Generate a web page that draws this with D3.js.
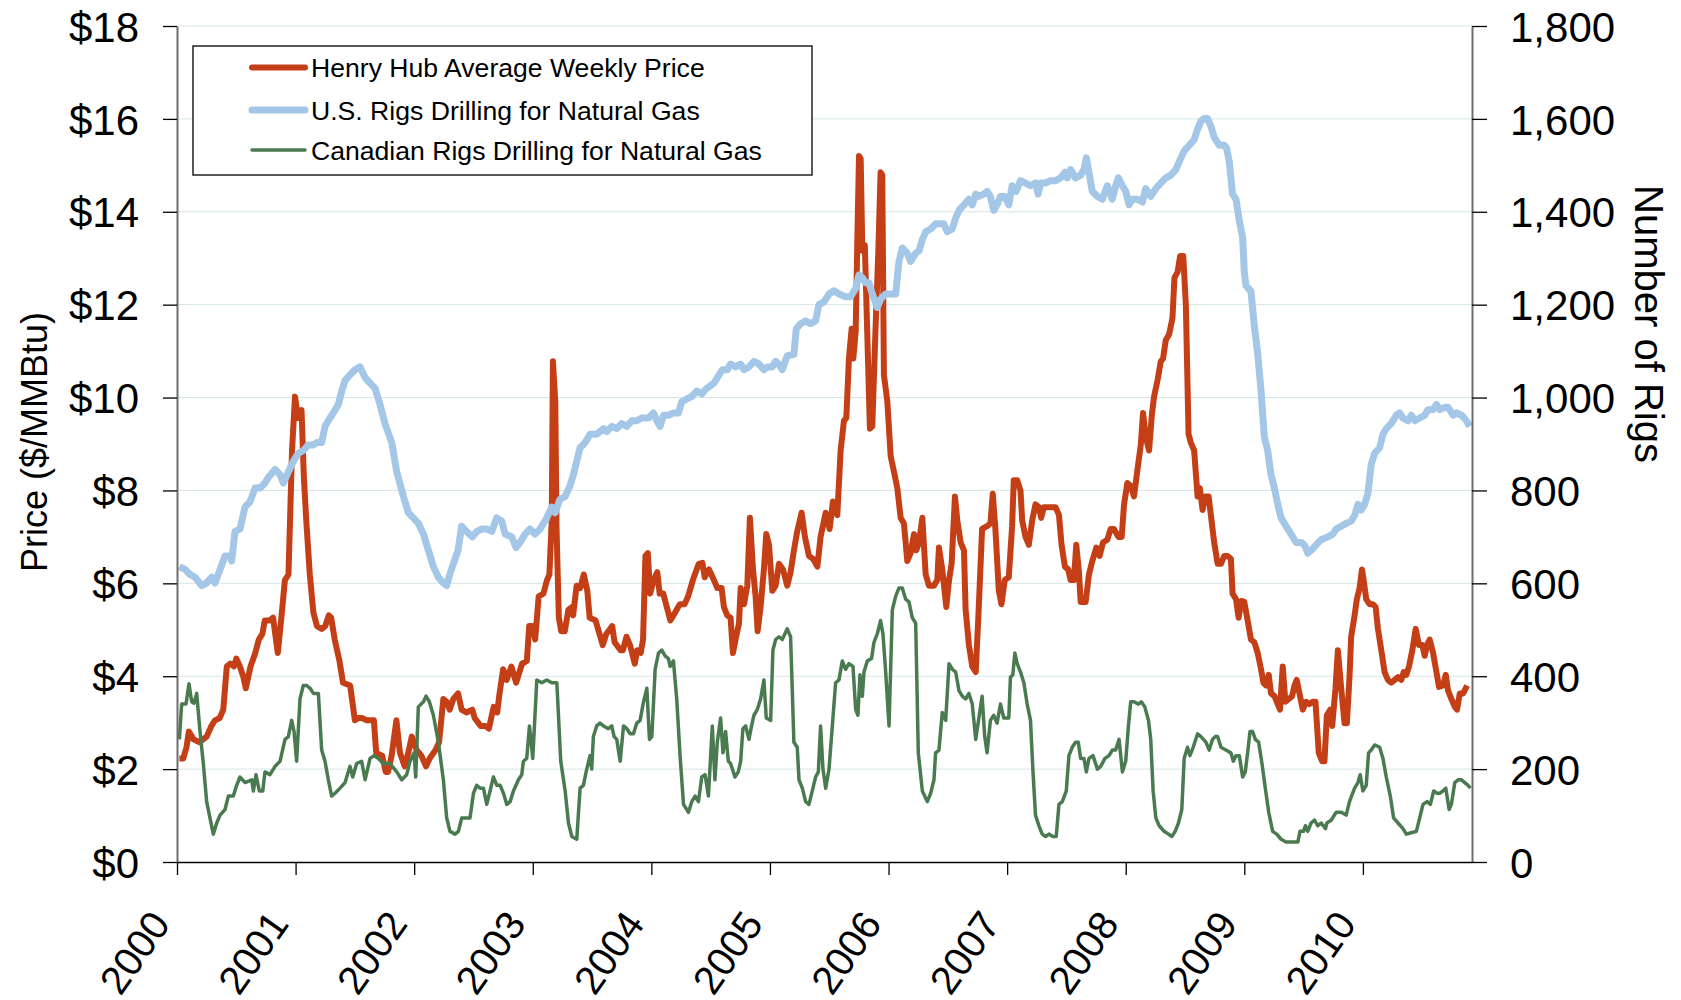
<!DOCTYPE html>
<html>
<head>
    <meta charset="utf-8">
    <title>Henry Hub price and gas rigs 2000-2010</title>
    <script src="https://cdnjs.cloudflare.com/ajax/libs/d3/7.8.5/d3.min.js"></script>
    <style>
        body { margin: 0; background: #fff; }
        text { font-family: "Liberation Sans", Arial, sans-serif; fill: #000; }
    </style>
</head>
<body>
<div id="chart"></div>

<script type="text/javascript">
    ////////////////////////////////////////////////////////////
    /////////////////////// Data ///////////////////////////////
    ////////////////////////////////////////////////////////////

    //[decimal year, $/MMBtu]
    var henryHub = [
        [2000.02,2.23],[2000.053,2.23],[2000.08,2.47],[2000.10,2.81],[2000.14,2.64],[2000.19,2.58],
        [2000.25,2.70],[2000.29,2.93],[2000.32,3.05],[2000.36,3.10],[2000.39,3.28],[2000.42,4.21],
        [2000.45,4.27],[2000.48,4.21],[2000.50,4.38],[2000.53,4.21],[2000.56,3.98],[2000.58,3.74],
        [2000.62,4.21],[2000.66,4.50],[2000.69,4.79],[2000.72,4.91],[2000.74,5.20],[2000.78,5.20],
        [2000.81,5.26],[2000.85,4.50],[2000.88,5.26],[2000.91,6.07],[2000.94,6.19],[2000.97,8.86],
        [2000.995,10.02],[2001.02,9.56],[2001.05,9.73],[2001.07,8.28],[2001.09,7.35],[2001.12,6.19],
        [2001.15,5.37],[2001.18,5.08],[2001.22,5.02],[2001.25,5.08],[2001.28,5.31],[2001.30,5.26],
        [2001.33,4.79],[2001.37,4.33],[2001.40,3.86],[2001.46,3.80],[2001.50,3.05],[2001.53,3.10],
        [2001.56,3.10],[2001.60,3.05],[2001.66,3.05],[2001.68,2.35],[2001.73,2.29],[2001.76,1.94],
        [2001.78,1.94],[2001.81,2.29],[2001.85,3.05],[2001.88,2.35],[2001.92,2.06],[2001.95,2.35],
        [2001.98,2.70],[2002.02,2.41],[2002.06,2.29],[2002.10,2.06],[2002.13,2.23],[2002.18,2.41],
        [2002.21,2.58],[2002.246,3.51],[2002.274,3.45],[2002.30,3.28],[2002.33,3.51],[2002.37,3.63],
        [2002.40,3.28],[2002.44,3.22],[2002.49,3.28],[2002.51,3.10],[2002.56,2.93],[2002.60,2.93],
        [2002.63,2.87],[2002.67,3.34],[2002.70,3.22],[2002.72,3.63],[2002.75,4.15],[2002.78,3.92],
        [2002.82,4.21],[2002.86,3.86],[2002.91,4.27],[2002.95,4.33],[2002.97,5.08],[2003.00,5.08],
        [2003.02,4.79],[2003.05,5.72],[2003.09,5.78],[2003.12,6.07],[2003.14,6.19],[2003.16,7.35],
        [2003.17,10.78],[2003.19,9.91],[2003.20,7.23],[2003.22,5.26],[2003.24,4.97],[2003.27,4.97],
        [2003.30,5.43],[2003.33,5.49],[2003.34,5.31],[2003.37,5.95],[2003.40,5.90],[2003.43,6.19],
        [2003.46,5.84],[2003.48,5.26],[2003.53,5.20],[2003.55,5.02],[2003.59,4.67],[2003.62,4.91],
        [2003.67,5.08],[2003.69,4.73],[2003.74,4.56],[2003.76,4.56],[2003.79,4.85],[2003.82,4.67],
        [2003.86,4.27],[2003.88,4.56],[2003.91,4.50],[2003.93,4.79],[2003.95,6.59],[2003.97,6.65],
        [2003.99,5.78],[2004.02,6.07],[2004.05,6.24],[2004.07,5.78],[2004.10,5.78],[2004.13,5.49],
        [2004.16,5.20],[2004.20,5.37],[2004.24,5.55],[2004.28,5.55],[2004.31,5.72],[2004.35,6.07],
        [2004.40,6.42],[2004.43,6.44],[2004.45,6.13],[2004.486,6.30],[2004.528,6.07],[2004.556,5.90],
        [2004.592,5.90],[2004.612,5.49],[2004.64,5.31],[2004.668,5.26],[2004.688,4.50],[2004.71,4.79],
        [2004.739,5.14],[2004.753,5.90],[2004.781,5.55],[2004.809,5.95],[2004.831,7.41],[2004.857,6.30],
        [2004.879,5.72],[2004.896,4.97],[2004.921,5.49],[2004.949,6.30],[2004.969,7.06],[2004.992,6.83],
        [2005.02,5.84],[2005.048,5.95],[2005.076,6.42],[2005.11,6.30],[2005.146,5.95],[2005.174,6.24],
        [2005.202,6.71],[2005.23,7.12],[2005.267,7.52],[2005.295,7.00],[2005.329,6.59],[2005.363,6.53],
        [2005.40,6.36],[2005.427,7.00],[2005.47,7.52],[2005.503,7.17],[2005.531,7.76],[2005.568,7.47],
        [2005.596,8.86],[2005.624,9.50],[2005.644,9.56],[2005.666,10.84],[2005.689,11.48],[2005.703,10.84],
        [2005.723,11.43],[2005.737,13.40],[2005.751,15.20],[2005.765,15.14],[2005.779,13.16],[2005.80,13.28],
        [2005.82,11.43],[2005.843,9.33],[2005.863,9.38],[2005.891,11.53],[2005.914,13.16],[2005.933,14.85],
        [2005.947,14.79],[2005.961,10.49],[2005.99,9.91],[2006.018,8.74],[2006.046,8.40],[2006.074,8.05],
        [2006.102,7.41],[2006.13,7.29],[2006.158,6.48],[2006.186,6.65],[2006.215,7.06],[2006.234,6.71],
        [2006.257,6.88],[2006.285,7.41],[2006.313,6.19],[2006.341,5.95],[2006.383,5.95],[2006.411,6.07],
        [2006.425,6.77],[2006.453,6.30],[2006.487,5.49],[2006.51,6.07],[2006.532,6.42],[2006.56,7.87],
        [2006.58,7.35],[2006.608,6.88],[2006.636,6.71],[2006.65,5.43],[2006.678,4.67],[2006.706,4.21],
        [2006.735,4.09],[2006.757,5.26],[2006.789,7.17],[2006.831,7.23],[2006.859,7.29],[2006.879,7.93],
        [2006.901,7.17],[2006.93,5.84],[2006.952,5.55],[2006.98,6.07],[2007.014,6.13],[2007.042,7.23],
        [2007.056,8.22],[2007.085,8.22],[2007.113,7.99],[2007.127,7.35],[2007.155,7.00],[2007.183,6.83],
        [2007.211,7.35],[2007.239,7.70],[2007.268,7.64],[2007.287,7.41],[2007.31,7.64],[2007.352,7.64],
        [2007.38,7.64],[2007.408,7.64],[2007.437,7.47],[2007.459,6.83],[2007.487,6.36],[2007.515,6.30],
        [2007.535,6.07],[2007.563,6.07],[2007.583,6.83],[2007.606,6.24],[2007.62,5.60],[2007.662,5.60],
        [2007.69,6.19],[2007.718,6.48],[2007.752,6.77],[2007.78,6.59],[2007.808,6.88],[2007.845,6.94],
        [2007.873,7.17],[2007.901,7.17],[2007.938,7.00],[2007.966,7.00],[2007.986,7.70],[2008.014,8.16],
        [2008.042,8.10],[2008.07,7.87],[2008.099,8.45],[2008.127,8.98],[2008.146,9.67],[2008.169,9.15],
        [2008.197,8.86],[2008.22,9.62],[2008.239,10.02],[2008.268,10.37],[2008.296,10.78],[2008.315,10.84],
        [2008.338,11.24],[2008.366,11.36],[2008.394,11.71],[2008.411,12.58],[2008.437,12.70],[2008.459,13.05],
        [2008.485,13.05],[2008.507,12.00],[2008.53,9.21],[2008.549,9.03],[2008.577,8.86],[2008.606,7.87],
        [2008.625,8.05],[2008.648,7.58],[2008.67,7.87],[2008.699,7.87],[2008.718,7.47],[2008.746,6.88],
        [2008.775,6.42],[2008.803,6.42],[2008.831,6.59],[2008.859,6.59],[2008.887,6.53],[2008.901,5.78],
        [2008.93,5.66],[2008.952,5.26],[2008.975,5.62],[2009.0,5.60],[2009.028,5.20],[2009.056,4.79],
        [2009.085,4.73],[2009.113,4.50],[2009.141,4.15],[2009.161,3.86],[2009.183,3.80],[2009.206,4.03],
        [2009.225,3.63],[2009.254,3.57],[2009.282,3.40],[2009.301,3.28],[2009.324,4.21],[2009.346,3.45],
        [2009.375,3.51],[2009.403,3.57],[2009.423,3.80],[2009.442,3.92],[2009.465,3.63],[2009.493,3.28],
        [2009.521,3.45],[2009.549,3.40],[2009.577,3.45],[2009.60,3.45],[2009.628,2.35],[2009.656,2.17],
        [2009.676,2.17],[2009.696,3.16],[2009.724,3.28],[2009.741,2.93],[2009.769,3.74],[2009.789,4.56],
        [2009.817,3.74],[2009.845,2.99],[2009.865,2.99],[2009.887,3.98],[2009.901,4.85],[2009.93,5.31],
        [2009.949,5.66],[2009.972,5.90],[2009.992,6.30],[2010.006,6.07],[2010.028,5.66],[2010.056,5.55],
        [2010.085,5.55],[2010.107,5.49],[2010.127,5.02],[2010.155,4.56],[2010.183,4.09],[2010.211,3.92],
        [2010.239,3.86],[2010.268,3.92],[2010.296,3.98],[2010.324,3.92],[2010.344,4.09],[2010.366,4.03],
        [2010.389,4.21],[2010.417,4.56],[2010.445,5.02],[2010.473,4.67],[2010.501,4.67],[2010.521,4.44],
        [2010.541,4.67],[2010.563,4.79],[2010.592,4.50],[2010.62,4.09],[2010.642,3.77],[2010.676,3.80],
        [2010.699,4.03],[2010.718,3.69],[2010.746,3.51],[2010.775,3.34],[2010.794,3.28],[2010.817,3.63],
        [2010.845,3.63],[2010.879,3.80]
    ];

    //[decimal year, number of rigs]
    var usRigs = [
        [2000.02,636],[2000.067,630],[2000.11,619],[2000.152,613],[2000.208,595],[2000.25,601],
        [2000.292,613],[2000.32,601],[2000.363,630],[2000.405,659],[2000.447,659],[2000.461,648],
        [2000.489,712],[2000.531,717],[2000.573,764],[2000.616,776],[2000.658,805],[2000.70,805],
        [2000.742,816],[2000.77,828],[2000.827,845],[2000.869,834],[2000.897,816],[2000.939,840],
        [2000.981,863],[2001.023,880],[2001.065,886],[2001.108,898],[2001.15,898],[2001.178,903],
        [2001.22,903],[2001.248,938],[2001.29,956],[2001.333,973],[2001.36,985],[2001.389,1014],
        [2001.417,1037],[2001.459,1049],[2001.501,1060],[2001.543,1066],[2001.586,1043],[2001.628,1031],
        [2001.67,1020],[2001.712,985],[2001.754,944],[2001.811,903],[2001.853,840],[2001.909,787],
        [2001.951,752],[2001.993,741],[2002.036,729],[2002.078,706],[2002.12,671],[2002.162,636],
        [2002.204,613],[2002.246,601],[2002.274,595],[2002.30,619],[2002.33,642],[2002.37,671],
        [2002.40,723],[2002.44,712],[2002.49,700],[2002.53,712],[2002.57,717],[2002.61,717],
        [2002.655,712],[2002.696,741],[2002.739,734],[2002.767,706],[2002.823,700],[2002.86,677],
        [2002.893,688],[2002.935,706],[2002.977,717],[2003.019,706],[2003.062,717],[2003.118,741],
        [2003.16,764],[2003.188,752],[2003.23,781],[2003.272,787],[2003.314,810],[2003.343,834],
        [2003.371,863],[2003.399,892],[2003.441,903],[2003.483,921],[2003.539,921],[2003.596,933],
        [2003.624,927],[2003.666,938],[2003.708,933],[2003.75,944],[2003.793,938],[2003.835,950],
        [2003.877,950],[2003.919,956],[2003.976,956],[2004.018,967],[2004.046,950],[2004.074,938],
        [2004.102,962],[2004.144,962],[2004.186,967],[2004.228,967],[2004.256,991],[2004.299,997],
        [2004.341,1002],[2004.383,1014],[2004.425,1008],[2004.467,1020],[2004.528,1031],[2004.571,1049],
        [2004.599,1060],[2004.641,1060],[2004.668,1072],[2004.711,1066],[2004.753,1072],[2004.781,1060],
        [2004.823,1066],[2004.866,1078],[2004.908,1072],[2004.949,1060],[2004.978,1066],[2005.02,1066],
        [2005.048,1078],[2005.076,1072],[2005.104,1060],[2005.146,1090],[2005.202,1093],[2005.222,1148],
        [2005.259,1159],[2005.301,1165],[2005.343,1159],[2005.385,1165],[2005.413,1200],[2005.455,1206],
        [2005.498,1223],[2005.54,1230],[2005.582,1223],[2005.638,1217],[2005.68,1217],[2005.723,1235],
        [2005.751,1264],[2005.779,1258],[2005.807,1247],[2005.835,1247],[2005.863,1223],[2005.905,1194],
        [2005.933,1212],[2005.975,1223],[2006.018,1223],[2006.06,1223],[2006.088,1293],[2006.116,1322],
        [2006.158,1311],[2006.186,1293],[2006.229,1311],[2006.257,1316],[2006.285,1340],[2006.313,1357],
        [2006.355,1363],[2006.397,1374],[2006.439,1374],[2006.467,1374],[2006.495,1357],[2006.537,1363],
        [2006.565,1386],[2006.594,1403],[2006.636,1415],[2006.678,1427],[2006.706,1415],[2006.735,1438],
        [2006.761,1433],[2006.803,1438],[2006.831,1444],[2006.859,1433],[2006.887,1403],[2006.915,1415],
        [2006.944,1433],[2006.98,1433],[2007.014,1415],[2007.042,1456],[2007.076,1444],[2007.113,1467],
        [2007.155,1462],[2007.197,1456],[2007.239,1462],[2007.262,1438],[2007.282,1462],[2007.324,1462],
        [2007.366,1467],[2007.408,1467],[2007.451,1473],[2007.487,1485],[2007.507,1473],[2007.535,1491],
        [2007.577,1473],[2007.62,1479],[2007.648,1491],[2007.668,1516],[2007.69,1485],[2007.718,1444],
        [2007.761,1433],[2007.803,1427],[2007.845,1456],[2007.887,1427],[2007.915,1456],[2007.938,1473],
        [2007.972,1456],[2008.0,1444],[2008.028,1415],[2008.056,1427],[2008.099,1427],[2008.141,1421],
        [2008.169,1450],[2008.211,1433],[2008.254,1450],[2008.296,1462],[2008.338,1473],[2008.38,1479],
        [2008.423,1491],[2008.451,1508],[2008.493,1531],[2008.535,1543],[2008.577,1555],[2008.606,1578],
        [2008.634,1595],[2008.662,1601],[2008.69,1601],[2008.718,1584],[2008.746,1560],[2008.789,1543],
        [2008.831,1543],[2008.851,1537],[2008.873,1508],[2008.901,1438],[2008.93,1427],[2008.958,1380],
        [2008.986,1345],[2009.0,1270],[2009.014,1241],[2009.056,1229],[2009.085,1153],[2009.113,1095],
        [2009.141,1014],[2009.169,915],[2009.197,886],[2009.225,834],[2009.254,805],[2009.282,770],
        [2009.31,741],[2009.352,723],[2009.394,706],[2009.437,688],[2009.479,688],[2009.507,683],
        [2009.535,665],[2009.563,671],[2009.606,683],[2009.648,694],[2009.704,700],[2009.746,706],
        [2009.775,717],[2009.817,723],[2009.859,729],[2009.901,734],[2009.93,746],[2009.958,770],
        [2009.986,758],[2010.014,770],[2010.042,793],[2010.07,856],[2010.099,880],[2010.141,892],
        [2010.169,921],[2010.197,933],[2010.239,944],[2010.282,962],[2010.31,967],[2010.338,956],
        [2010.38,950],[2010.408,962],[2010.437,950],[2010.479,956],[2010.521,962],[2010.549,974],
        [2010.592,974],[2010.62,985],[2010.648,974],[2010.69,979],[2010.718,979],[2010.761,962],
        [2010.789,967],[2010.831,962],[2010.873,950],[2010.901,938]
    ];

    //[decimal year, number of rigs]
    var canadaRigs = [
        [2000.02,264],[2000.039,340],[2000.076,340],[2000.101,384],[2000.124,345],[2000.143,342],
        [2000.166,363],[2000.194,281],[2000.222,212],[2000.25,130],[2000.278,95],[2000.306,60],
        [2000.335,84],[2000.363,101],[2000.405,113],[2000.433,142],[2000.475,142],[2000.503,165],
        [2000.531,183],[2000.574,171],[2000.63,177],[2000.644,153],[2000.666,188],[2000.694,153],
        [2000.723,153],[2000.742,194],[2000.784,188],[2000.827,206],[2000.869,217],[2000.911,264],
        [2000.939,270],[2000.967,305],[2000.987,281],[2001.009,217],[2001.037,351],[2001.065,380],
        [2001.094,380],[2001.122,374],[2001.15,363],[2001.192,363],[2001.22,241],[2001.248,217],
        [2001.276,177],[2001.304,142],[2001.333,148],[2001.375,159],[2001.417,171],[2001.459,206],
        [2001.482,183],[2001.515,212],[2001.557,217],[2001.586,177],[2001.628,223],[2001.662,229],
        [2001.698,223],[2001.74,212],[2001.796,212],[2001.853,194],[2001.895,177],[2001.937,188],
        [2001.965,217],[2001.999,235],[2002.013,183],[2002.035,334],[2002.078,345],[2002.1,357],
        [2002.128,345],[2002.162,316],[2002.204,258],[2002.246,177],[2002.274,95],[2002.302,66],
        [2002.345,60],[2002.373,66],[2002.401,95],[2002.443,95],[2002.471,95],[2002.5,148],
        [2002.527,165],[2002.556,159],[2002.584,159],[2002.612,124],[2002.64,153],[2002.668,183],
        [2002.697,165],[2002.725,165],[2002.753,148],[2002.781,124],[2002.809,130],[2002.837,153],
        [2002.879,177],[2002.907,188],[2002.921,217],[2002.949,223],[2002.972,293],[2003.0,223],
        [2003.034,392],[2003.076,386],[2003.118,392],[2003.16,386],[2003.203,386],[2003.236,217],
        [2003.273,153],[2003.301,84],[2003.329,55],[2003.371,49],[2003.399,159],[2003.427,165],
        [2003.455,200],[2003.483,229],[2003.497,200],[2003.511,270],[2003.539,293],[2003.567,299],
        [2003.596,293],[2003.638,287],[2003.666,293],[2003.686,270],[2003.708,264],[2003.737,217],
        [2003.765,293],[2003.793,287],[2003.821,276],[2003.849,276],[2003.877,299],[2003.905,305],
        [2003.934,345],[2003.962,374],[2003.984,264],[2004.004,270],[2004.032,415],[2004.06,450],
        [2004.088,456],[2004.116,444],[2004.144,438],[2004.158,421],[2004.186,433],[2004.214,351],
        [2004.242,229],[2004.271,124],[2004.313,107],[2004.341,130],[2004.369,142],[2004.397,130],
        [2004.425,183],[2004.453,188],[2004.481,142],[2004.514,293],[2004.536,177],[2004.556,258],
        [2004.584,310],[2004.604,235],[2004.626,281],[2004.649,217],[2004.668,212],[2004.705,183],
        [2004.733,194],[2004.753,217],[2004.772,287],[2004.795,293],[2004.823,264],[2004.845,293],
        [2004.865,316],[2004.893,328],[2004.921,351],[2004.949,392],[2004.969,310],[2005.006,305],
        [2005.025,456],[2005.048,479],[2005.076,485],[2005.104,479],[2005.146,502],[2005.174,485],
        [2005.202,258],[2005.23,247],[2005.245,177],[2005.273,159],[2005.301,130],[2005.329,124],
        [2005.357,153],[2005.385,183],[2005.408,194],[2005.427,293],[2005.447,200],[2005.47,159],
        [2005.498,200],[2005.526,293],[2005.554,386],[2005.582,392],[2005.61,433],[2005.638,415],
        [2005.666,427],[2005.7,421],[2005.723,328],[2005.742,316],[2005.759,403],[2005.779,357],
        [2005.793,409],[2005.821,433],[2005.857,438],[2005.877,473],[2005.905,491],[2005.933,520],
        [2005.953,491],[2005.976,409],[2006.004,293],[2006.032,543],[2006.06,572],[2006.088,590],
        [2006.116,590],[2006.144,566],[2006.172,560],[2006.2,526],[2006.229,514],[2006.251,235],
        [2006.285,153],[2006.327,130],[2006.355,148],[2006.383,177],[2006.397,235],[2006.425,241],
        [2006.453,322],[2006.482,305],[2006.51,427],[2006.538,415],[2006.566,409],[2006.594,369],
        [2006.622,357],[2006.65,351],[2006.678,363],[2006.706,340],[2006.735,264],[2006.789,357],
        [2006.811,270],[2006.831,235],[2006.859,305],[2006.887,316],[2006.915,299],[2006.944,340],
        [2006.972,310],[2007.014,310],[2007.028,398],[2007.048,403],[2007.065,450],[2007.085,427],
        [2007.113,409],[2007.141,386],[2007.169,340],[2007.197,305],[2007.217,200],[2007.239,101],
        [2007.268,78],[2007.296,60],[2007.324,55],[2007.352,60],[2007.386,55],[2007.414,55],
        [2007.437,124],[2007.465,130],[2007.499,153],[2007.521,229],[2007.549,247],[2007.577,258],
        [2007.6,258],[2007.62,223],[2007.648,223],[2007.668,194],[2007.69,223],[2007.724,229],
        [2007.761,200],[2007.789,206],[2007.825,223],[2007.859,229],[2007.887,241],[2007.915,241],
        [2007.944,264],[2007.972,194],[2008.0,217],[2008.023,293],[2008.042,345],[2008.07,345],
        [2008.107,340],[2008.132,345],[2008.161,334],[2008.192,305],[2008.211,264],[2008.231,153],
        [2008.254,95],[2008.282,78],[2008.324,66],[2008.361,60],[2008.389,55],[2008.417,66],
        [2008.445,84],[2008.473,113],[2008.493,223],[2008.521,247],[2008.541,229],[2008.569,247],
        [2008.606,276],[2008.634,270],[2008.676,258],[2008.704,241],[2008.732,264],[2008.755,270],
        [2008.775,270],[2008.803,247],[2008.845,241],[2008.887,235],[2008.907,217],[2008.93,229],
        [2008.958,229],[2008.986,183],[2009.008,194],[2009.028,235],[2009.048,281],[2009.07,281],
        [2009.093,264],[2009.121,258],[2009.149,212],[2009.177,159],[2009.206,107],[2009.239,66],
        [2009.273,60],[2009.31,49],[2009.352,43],[2009.408,43],[2009.451,43],[2009.47,66],
        [2009.499,66],[2009.515,78],[2009.535,66],[2009.563,84],[2009.592,90],[2009.62,78],
        [2009.648,84],[2009.685,72],[2009.696,84],[2009.732,90],[2009.775,107],[2009.817,107],
        [2009.859,101],[2009.887,130],[2009.93,159],[2009.958,171],[2009.977,188],[2010.0,153],
        [2010.028,165],[2010.048,235],[2010.07,241],[2010.099,252],[2010.141,247],[2010.169,223],
        [2010.197,183],[2010.231,142],[2010.259,95],[2010.296,84],[2010.338,72],[2010.366,60],
        [2010.408,63],[2010.451,66],[2010.479,95],[2010.507,124],[2010.541,130],[2010.569,124],
        [2010.597,153],[2010.625,148],[2010.648,148],[2010.676,153],[2010.699,159],[2010.727,113],
        [2010.746,124],[2010.775,171],[2010.803,177],[2010.831,177],[2010.859,171],[2010.887,165],
        [2010.907,159]
    ];

    var yearTicks = [2000, 2001, 2002, 2003, 2004, 2005, 2006, 2007, 2008, 2009, 2010];
    var priceTicks = [0, 2, 4, 6, 8, 10, 12, 14, 16, 18];
    var rigTicks = [0, 200, 400, 600, 800, 1000, 1200, 1400, 1600, 1800];

    var seriesNames = ["Henry Hub Average Weekly Price",
                       "U.S. Rigs Drilling for Natural Gas",
                       "Canadian Rigs Drilling for Natural Gas"];

    ////////////////////////////////////////////////////////////
    ///////////////////// Set up SVG ///////////////////////////
    ////////////////////////////////////////////////////////////

    var width = 1681,
        height = 1000;

    //plot edges (not "top": that name is taken by window.top)
    var plotLeft = 177, plotRight = 1472, plotTop = 26, plotBottom = 862;

    var colRed = "#c53f16",
        colBlue = "#a4c7e7",
        colGreen = "#4a7a50";

    var svg = d3.select("#chart").append("svg")
        .attr("width", width)
        .attr("height", height);

    svg.append("rect").attr("width", width).attr("height", height).attr("fill", "#fff");

    var x = d3.scaleLinear().domain([2000, 2010.92]).range([plotLeft, plotRight]);
    var yPrice = d3.scaleLinear().domain([0, 18]).range([plotBottom, plotTop]);
    var yRigs = d3.scaleLinear().domain([0, 1800]).range([plotBottom, plotTop]);

    //gridlines
    svg.append("g").selectAll("line")
        .data(priceTicks.filter(function(d) { return d > 0; }))
        .enter().append("line")
        .attr("x1", plotLeft).attr("x2", plotRight)
        .attr("y1", function(d) { return yPrice(d); })
        .attr("y2", function(d) { return yPrice(d); })
        .attr("stroke", "#d6e5e5")
        .attr("stroke-width", 1);

    ////////////////////////////////////////////////////////////
    //////////////////////// Lines /////////////////////////////
    ////////////////////////////////////////////////////////////

    var priceLine = d3.line()
        .x(function(d) { return x(d[0]); })
        .y(function(d) { return yPrice(d[1]); });

    var rigLine = d3.line()
        .x(function(d) { return x(d[0]); })
        .y(function(d) { return yRigs(d[1]); });

    //same order as the legend: the rig lines sit on top of the price
    svg.append("path").datum(henryHub)
        .attr("d", priceLine)
        .attr("fill", "none").attr("stroke", colRed).attr("stroke-width", 6)
        .attr("stroke-linejoin", "round");

    svg.append("path").datum(usRigs)
        .attr("d", rigLine)
        .attr("fill", "none").attr("stroke", colBlue).attr("stroke-width", 7)
        .attr("stroke-linejoin", "round");

    svg.append("path").datum(canadaRigs)
        .attr("d", rigLine)
        .attr("fill", "none").attr("stroke", colGreen).attr("stroke-width", 3.5)
        .attr("stroke-linejoin", "round");

    ////////////////////////////////////////////////////////////
    //////////////////////// Axes //////////////////////////////
    ////////////////////////////////////////////////////////////

    var leftAxis = svg.append("g")
        .attr("transform", "translate(" + plotLeft + ",0)")
        .call(d3.axisLeft(yPrice).tickValues(priceTicks).tickSize(14).tickSizeOuter(0).tickPadding(24)
            .tickFormat(function(d) { return "$" + d; }));

    var rightAxis = svg.append("g")
        .attr("transform", "translate(" + plotRight + ",0)")
        .call(d3.axisRight(yRigs).tickValues(rigTicks).tickSize(15).tickSizeOuter(0).tickPadding(23)
            .tickFormat(d3.format(",")));

    var bottomAxis = svg.append("g")
        .attr("transform", "translate(0," + plotBottom + ")")
        .call(d3.axisBottom(x).tickValues(yearTicks).tickSize(13).tickSizeOuter(0)
            .tickFormat(d3.format("d")));

    [leftAxis, rightAxis].forEach(function(g) {
        g.select(".domain").attr("stroke", "#6e6e6e").attr("stroke-width", 2);
        g.selectAll(".tick line").attr("stroke", "#000").attr("stroke-width", 1.3);
        g.selectAll(".tick text").style("font-size", "42px").attr("dy", "0.36em");
    });

    bottomAxis.select(".domain").attr("stroke", "#000").attr("stroke-width", 1.3);
    bottomAxis.selectAll(".tick line").attr("stroke", "#000").attr("stroke-width", 1.3);
    bottomAxis.selectAll(".tick text")
        .attr("x", 0).attr("y", 0).attr("dy", 0)
        .attr("transform", "translate(-6,62) rotate(-55)")
        .style("text-anchor", "end")
        .style("font-size", "40px");

    //axis titles
    svg.append("text")
        .attr("transform", "translate(34,442) rotate(-90)")
        .attr("text-anchor", "middle")
        .attr("dominant-baseline", "central")
        .style("font-size", "36px")
        .text("Price ($/MMBtu)");

    svg.append("text")
        .attr("transform", "translate(1649,324) rotate(90)")
        .attr("text-anchor", "middle")
        .attr("dominant-baseline", "central")
        .style("font-size", "40px")
        .text("Number of Rigs");

    ////////////////////////////////////////////////////////////
    /////////////////////// Legend /////////////////////////////
    ////////////////////////////////////////////////////////////

    var legend = svg.append("g");

    legend.append("rect")
        .attr("x", 193).attr("y", 46)
        .attr("width", 619).attr("height", 129)
        .attr("fill", "#fff").attr("stroke", "#222").attr("stroke-width", 1.5);

    var legendRows = [
        { name: seriesNames[0], color: colRed, w: 6, y: 67.5 },
        { name: seriesNames[1], color: colBlue, w: 7, y: 110 },
        { name: seriesNames[2], color: colGreen, w: 3.5, y: 150 }
    ];

    var row = legend.selectAll(".leg-row")
        .data(legendRows)
        .enter().append("g")
        .attr("class", "leg-row")
        .attr("transform", function(d) { return "translate(0," + d.y + ")"; });

    row.append("line")
        .attr("x1", 252).attr("x2", 305)
        .attr("stroke", function(d) { return d.color; })
        .attr("stroke-width", function(d) { return d.w; })
        .attr("stroke-linecap", "round");

    row.append("text")
        .attr("x", 311)
        .attr("dy", "0.36em")
        .style("font-size", "26.6px")
        .text(function(d) { return d.name; });

</script>
</body>
</html>
